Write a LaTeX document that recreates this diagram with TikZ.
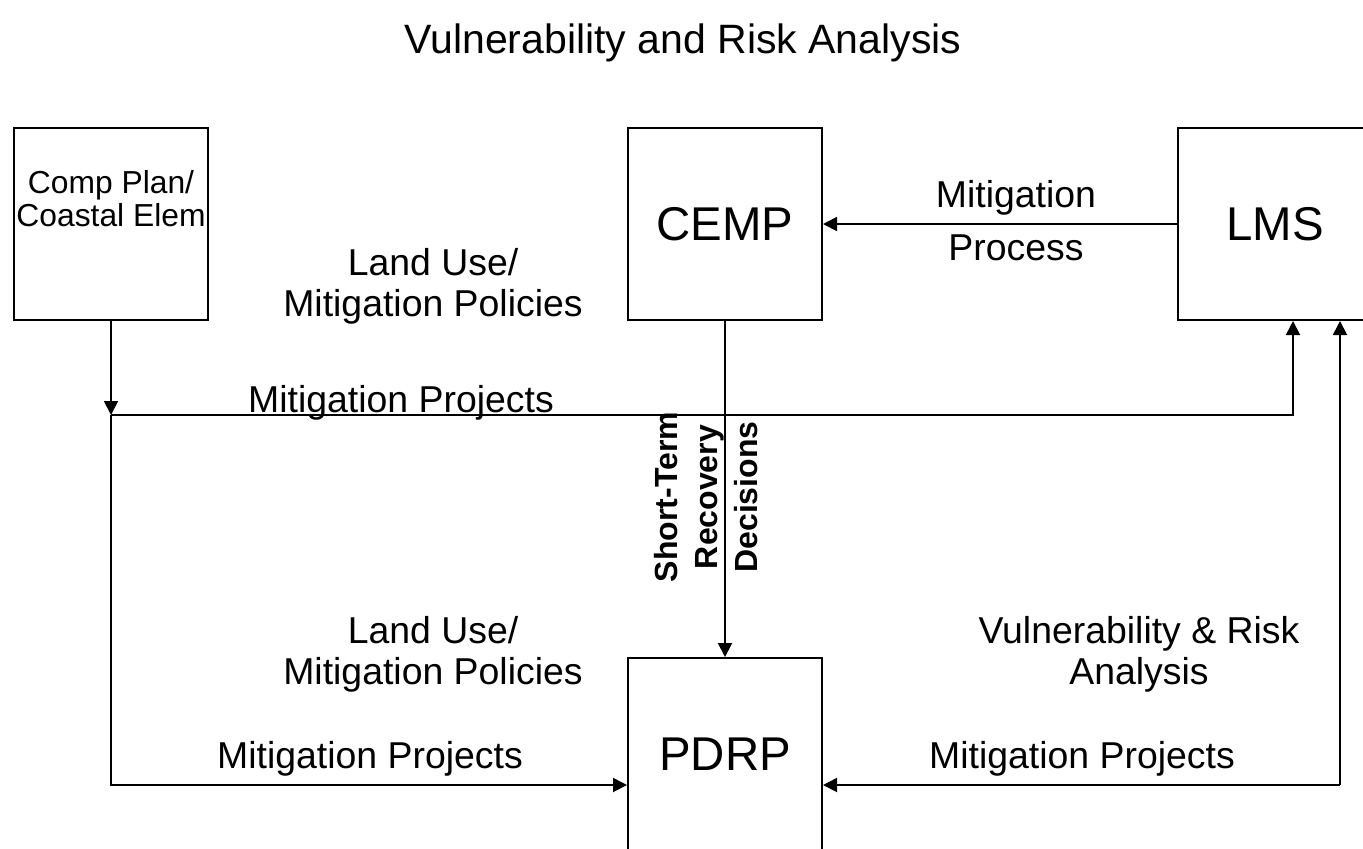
\documentclass[tikz,border=0pt]{standalone}
\usepackage{fontspec}
\setmainfont{Liberation Sans}
\usetikzlibrary{arrows.meta}
\begin{document}
\begin{tikzpicture}[x=0.5pt,y=-0.5pt,
  blockbox/.style={draw, line width=1pt, minimum width=97pt, minimum height=96pt, inner sep=0pt, align=center},
  bigname/.style={font=\fontsize{23.7}{28}\selectfont},
  flowlabel/.style={font=\fontsize{18.7}{20.5}\selectfont, align=center, inner sep=0pt},
  flow/.style={line width=0.9pt, -{Triangle[length=7pt,width=7pt]}}]
\clip (0,0) rectangle (1363,848);
\node[flowlabel, font=\fontsize{20.5}{24}\selectfont] (title) at (683,43) {Vulnerability and Risk Analysis};
\node[blockbox] (comp) at (111,224) {};
\node[flowlabel, font=\fontsize{15.9}{16.5}\selectfont] (comptext) at (111,199) {Comp Plan/\\Coastal Elem};
\node[blockbox, bigname] (cemp) at (725,224) {CEMP};
\node[blockbox, bigname] (lms) at (1275,224) {LMS};
\node[blockbox, bigname] (pdrp) at (725,754) {PDRP};
\coordinate (jl) at (111,415);
\coordinate (bl) at (111,785);
\coordinate (br) at (1340,785);
\draw[flow] (lms) -- (cemp);
\draw[flow] (comp.south) -- (jl);
\draw[flow] (jl) -- (bl) -- (bl -| pdrp.west);
\draw[flow] (jl) -| ([xshift=9pt]lms.south);
\draw[flow] (br) -- (br |- lms.south);
\draw[flow] (br) -- (br -| pdrp.east);
\draw[flow] (cemp) -- (pdrp);
\node[flowlabel, anchor=base] (mitproc) at (1016,207) {Mitigation};
\node[flowlabel, anchor=base] (process) at (1016,260) {Process};
\node[flowlabel] (policytop) at (433,286) {Land Use/\\Mitigation Policies};
\node[flowlabel, anchor=base] (projtop) at (401,412) {Mitigation Projects};
\node[flowlabel, rotate=90, font=\bfseries\fontsize{16}{20}\selectfont] (recovery) at (706,497) {Short-Term\\Recovery\\Decisions};
\node[flowlabel] (policybot) at (433,654) {Land Use/\\Mitigation Policies};
\node[flowlabel] (vulnrisk) at (1139,654) {Vulnerability \& Risk\\Analysis};
\node[flowlabel, anchor=base] (projleft) at (370,768) {Mitigation Projects};
\node[flowlabel, anchor=base] (projright) at (1082,768) {Mitigation Projects};
\end{tikzpicture}
\end{document}
